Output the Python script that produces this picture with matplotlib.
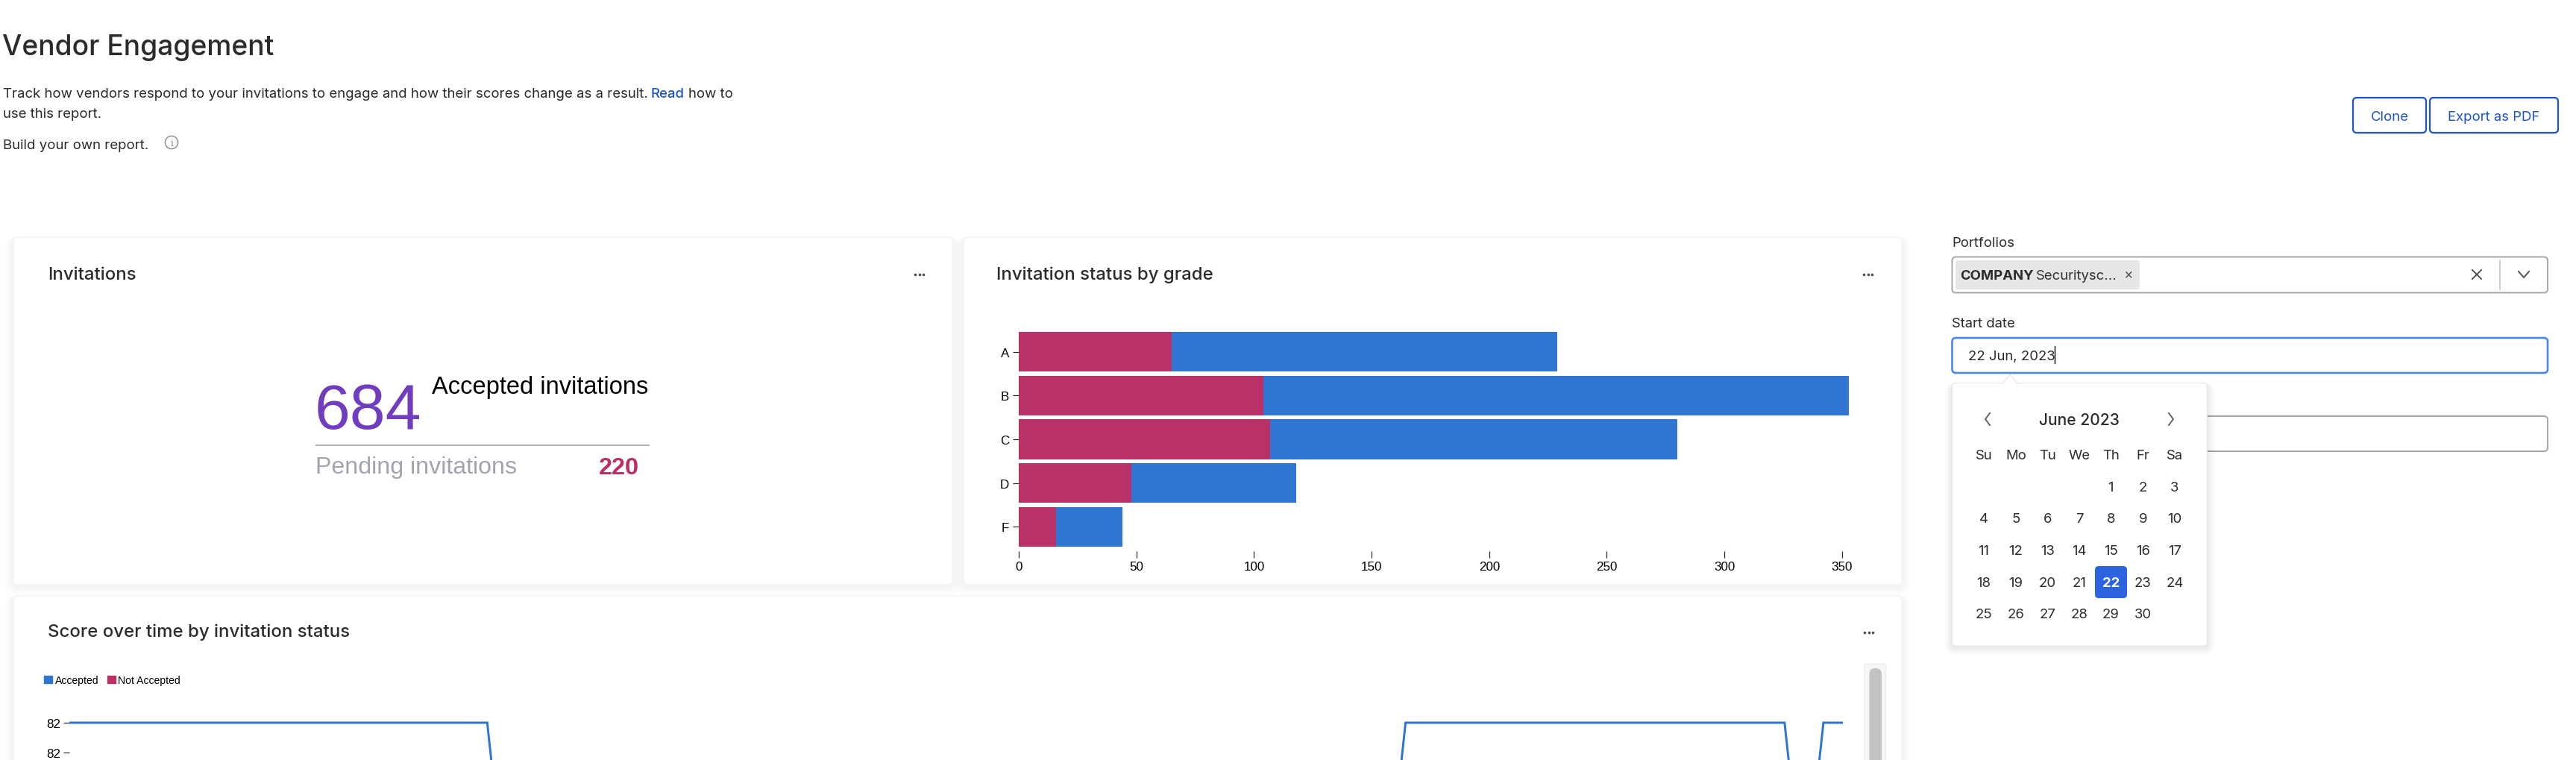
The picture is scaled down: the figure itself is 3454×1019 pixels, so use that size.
import matplotlib
matplotlib.use("Agg")
import matplotlib.pyplot as plt
from matplotlib.patches import FancyBboxPatch, Rectangle, Polygon, Circle, Patch
from matplotlib.ticker import FormatStrFormatter

# ---------- data ----------
grades = ["A", "B", "C", "D", "F"]
not_accepted = [65, 104, 107, 48, 16]
accepted = [164, 249, 173, 70, 28]
x_ticks = [0, 50, 100, 150, 200, 250, 300, 350]

score_days = [0, 86, 87, 274, 275, 353, 354, 360, 361, 365]
score_accepted = [82, 82, 81.7, 81.7, 82, 82, 81.7, 81.7, 82, 82]
score_ticks = [82.0, 81.8]
legend_labels = ["Accepted", "Not Accepted"]

accepted_total = "684"
pending_total = "220"

week_days = ["Su", "Mo", "Tu", "We", "Th", "Fr", "Sa"]
calendar_rows = [
    ["", "", "", "", "1", "2", "3"],
    ["4", "5", "6", "7", "8", "9", "10"],
    ["11", "12", "13", "14", "15", "16", "17"],
    ["18", "19", "20", "21", "22", "23", "24"],
    ["25", "26", "27", "28", "29", "30", ""],
]
selected_day = "22"

# ---------- style ----------
W, H = 3454, 1020
PX = 72 / 100
BLUE = "#2F75D2"
MAGENTA = "#B83268"
LINK = "#1D55C4"
INK = "#2B2B2B"
UI = ["Inter", "DejaVu Sans"]
CHART = ["Liberation Sans", "DejaVu Sans"]

fig = plt.figure(figsize=(W / 100, H / 100), dpi=100, facecolor="white")
ui = fig.add_axes([0, 0, 1, 1])
ui.set_xlim(0, W)
ui.set_ylim(H, 0)
ui.axis("off")


def T(x, y, s, px, color=INK, ha="left", va="baseline", family=UI, weight="normal", z=10):
    return ui.text(x, y, s, fontsize=px * PX, color=color, ha=ha, va=va,
                   family=family, fontweight=weight, zorder=z)


def box(x0, y0, x1, y1, r=5, fc="white", ec="none", lw=0, z=2, alpha=None):
    p = FancyBboxPatch((x0, y0), x1 - x0, y1 - y0,
                       boxstyle=f"round,pad=0,rounding_size={r}",
                       fc=fc, ec=ec, lw=lw * PX, zorder=z, alpha=alpha)
    ui.add_patch(p)
    return p


def card(x0, y0, x1, y1):
    for i in range(1, 13):
        box(x0 - i, y0 - i * 0.4 + 3, x1 + i, y1 + i + 2, r=6 + i, fc="black", z=1, alpha=0.0045)
    box(x0, y0, x1, y1, r=6, fc="white", ec="#F3F3F3", lw=1.2, z=2)


def dots(cx, cy):
    ui.plot([cx - 5.5, cx, cx + 5.5], [cy, cy, cy], ls="none", marker="o", ms=3.3 * PX * 1.1,
            color="#4D4D4D", mew=0, zorder=5)


# ---------- header ----------
BODY = 18.6
T(3, 74, "Vendor Engagement", 37.2, weight="medium")
T(4, 131, "Track how vendors respond to your invitations to engage and how their scores change as a result.", BODY)
T(873, 131, "Read", BODY, color=LINK, weight="medium")
T(923, 131, "how to", BODY)
T(4, 158, "use this report.", BODY)
T(4, 200.5, "Build your own report.", BODY)
ui.add_patch(Circle((230, 192), 8.6, fc="none", ec="#8E8E8E", lw=1.5 * PX, zorder=5))
T(230, 192.5, "i", 12, color="#8E8E8E", ha="center", va="center", family=["DejaVu Serif"])

box(3155, 132, 3253, 179, r=5, ec=LINK, lw=2.2)
T(3204, 162, "Clone", 18.5, color=LINK, ha="center")
box(3258, 132, 3430, 179, r=5, ec=LINK, lw=2.2)
T(3344, 162, "Export as PDF", 18.5, color=LINK, ha="center")

# ---------- cards ----------
card(18, 319, 1277, 785)
card(1292, 319, 2550, 785)
card(18, 800, 2550, 1100)
T(64, 374.7, "Invitations", 24, weight="medium")
T(1336, 374.7, "Invitation status by grade", 24, weight="medium")
T(64, 854.5, "Score over time by invitation status", 24, weight="medium")
dots(1233, 369)
dots(2505, 369)
dots(2506, 849)

# ---------- KPI ----------
T(422, 575, accepted_total, 86, color="#6F3DBE", family=CHART)
T(579, 528, "Accepted invitations", 32.7, color="black", family=CHART)
ui.plot([423, 871], [598, 598], color="#B4B4B8", lw=2 * PX, zorder=5, solid_capstyle="butt")
T(423, 635, "Pending invitations", 32.2, color="#A1A4AF", family=CHART)
T(803, 636, pending_total, 32.5, color="#BB2D66", family=CHART, weight="bold")


def make_axes(left, top, right, bottom):
    a = fig.add_axes([left / W, 1 - bottom / H, (right - left) / W, (bottom - top) / H])
    a.patch.set_alpha(0)
    for s in a.spines.values():
        s.set_visible(False)
    return a


# ---------- stacked bars ----------
bar_ax = make_axes(1366, 440, 2490, 740)
ypos = list(range(len(grades)))
bar_ax.barh(ypos, not_accepted, height=0.909, color=MAGENTA, lw=0)
bar_ax.barh(ypos, accepted, left=not_accepted, height=0.909, color=BLUE, lw=0)
bar_ax.set_xlim(0, 356.4)
bar_ax.set_ylim(4.557, -0.557)
bar_ax.set_yticks(ypos, grades)
bar_ax.set_xticks(x_ticks)
bar_ax.tick_params(axis="both", length=8.5 * PX, width=1.2 * PX, color="#222222", labelsize=17 * PX,
                   labelcolor="black", pad=3)
for t in bar_ax.get_xticklabels() + bar_ax.get_yticklabels():
    t.set_family(CHART)

# ---------- score line ----------
line_ax = make_axes(93, 950, 2471, 1100)
line_ax.plot(score_days, score_accepted, color=BLUE, lw=3 * PX, solid_joinstyle="miter")
line_ax.set_xlim(0, 365)
line_ax.set_ylim(81.35, 82.1)
line_ax.set_xticks([])
line_ax.set_yticks(score_ticks)
line_ax.yaxis.set_major_formatter(FormatStrFormatter("%.0f"))
line_ax.tick_params(axis="y", length=8 * PX, width=1.2 * PX, color="#222222", labelsize=17 * PX,
                    labelcolor="black", pad=3)
for t in line_ax.get_yticklabels():
    t.set_family(CHART)
leg = ui.legend(handles=[Patch(color=BLUE, label=legend_labels[0]), Patch(color=MAGENTA, label=legend_labels[1])],
                loc="center left", bbox_to_anchor=(59 / W, 1 - 913 / H), bbox_transform=fig.transFigure,
                frameon=False, ncol=2, borderpad=0, borderaxespad=0,
                handlelength=0.8, handleheight=0.8, handletextpad=0.25, columnspacing=0.8,
                prop={"family": CHART, "size": 14 * PX})
leg.set_zorder(12)

# scrollbar
ui.add_patch(Rectangle((2499, 891), 29, 140, fc="#F6F6F6", ec="#EDEDED", lw=1 * PX, zorder=6))
box(2506.5, 897, 2523, 1060, r=8, fc="#C2C2C2", z=7)

# ---------- filters ----------
T(2617, 331, "Portfolios", 18.5)
box(2617.5, 345.5, 3416, 393.5, r=5, ec="#A8A8A8", lw=2)
box(2622, 350, 2869, 389, r=4, fc="#E6E6E6", z=3)
T(2628, 375, "COMPANY", 18.5, weight="bold")
T(2730, 375, "Securitysc...", 18.5, color="#333333")
T(2853, 369, "×", 19, color="#555555", ha="center", va="center")
ui.plot([3315, 3327], [363, 375], color="#555555", lw=2 * PX, zorder=5)
ui.plot([3315, 3327], [375, 363], color="#555555", lw=2 * PX, zorder=5)
ui.plot([3352, 3352], [350, 389], color="#BDBDBD", lw=1.5 * PX, zorder=5)
ui.plot([3377, 3384, 3391], [365, 373, 365], color="#555555", lw=2 * PX, zorder=5)

T(2617, 439, "Start date", 18.5)
box(2617.5, 454, 3416, 501, r=5, ec="#4A84EE", lw=2.6)
T(2639, 483.5, "22 Jun, 2023", 18.5)
ui.plot([2755, 2755], [465, 488], color="black", lw=1.4 * PX, zorder=5)

# end date field, mostly hidden by the popover
box(2800, 559, 3416, 606, r=5, ec="#A8A8A8", lw=2)

# popover
for i in range(1, 11):
    box(2617.5 - i, 514.6 - i * 0.3 + 2, 2959.5 + i, 867 + i + 2, r=5 + i, fc="black", z=3, alpha=0.006)
box(2617.5, 514.6, 2959.5, 867, r=5, ec="#E8E8E8", lw=1.2, z=4)
ui.add_patch(Polygon([(2685, 515.5), (2695, 503), (2705, 515.5)], closed=True, fc="white", ec="#E8E8E8",
                     lw=1.2 * PX, zorder=4))
ui.add_patch(Rectangle((2686, 514), 18, 3, fc="white", ec="none", zorder=4.5))
T(2788, 570, "June 2023", 21, ha="center", weight="medium", z=6)
ui.plot([2668, 2662, 2668], [555, 563, 571], color="#666666", lw=2 * PX, zorder=6)
ui.plot([2908, 2914, 2908], [555, 563, 571], color="#666666", lw=2 * PX, zorder=6)

col_x = [2660, 2703, 2745.4, 2788, 2830.4, 2873.4, 2916]
row_y = [659, 701, 744, 787, 829]
for cx, d in zip(col_x, week_days):
    T(cx, 616.5, d, 18.5, ha="center", z=6)
for ry, row in zip(row_y, calendar_rows):
    for cx, d in zip(col_x, row):
        if d == selected_day:
            box(cx - 21.4, ry - 27, cx + 21.6, ry + 16, r=5, fc="#2B63E0", z=5)
            T(cx, ry, d, 18.5, color="white", ha="center", weight="bold", z=6)
        elif d:
            T(cx, ry, d, 18.5, ha="center", z=6)

fig.savefig("out.png", dpi=100, facecolor="white")
